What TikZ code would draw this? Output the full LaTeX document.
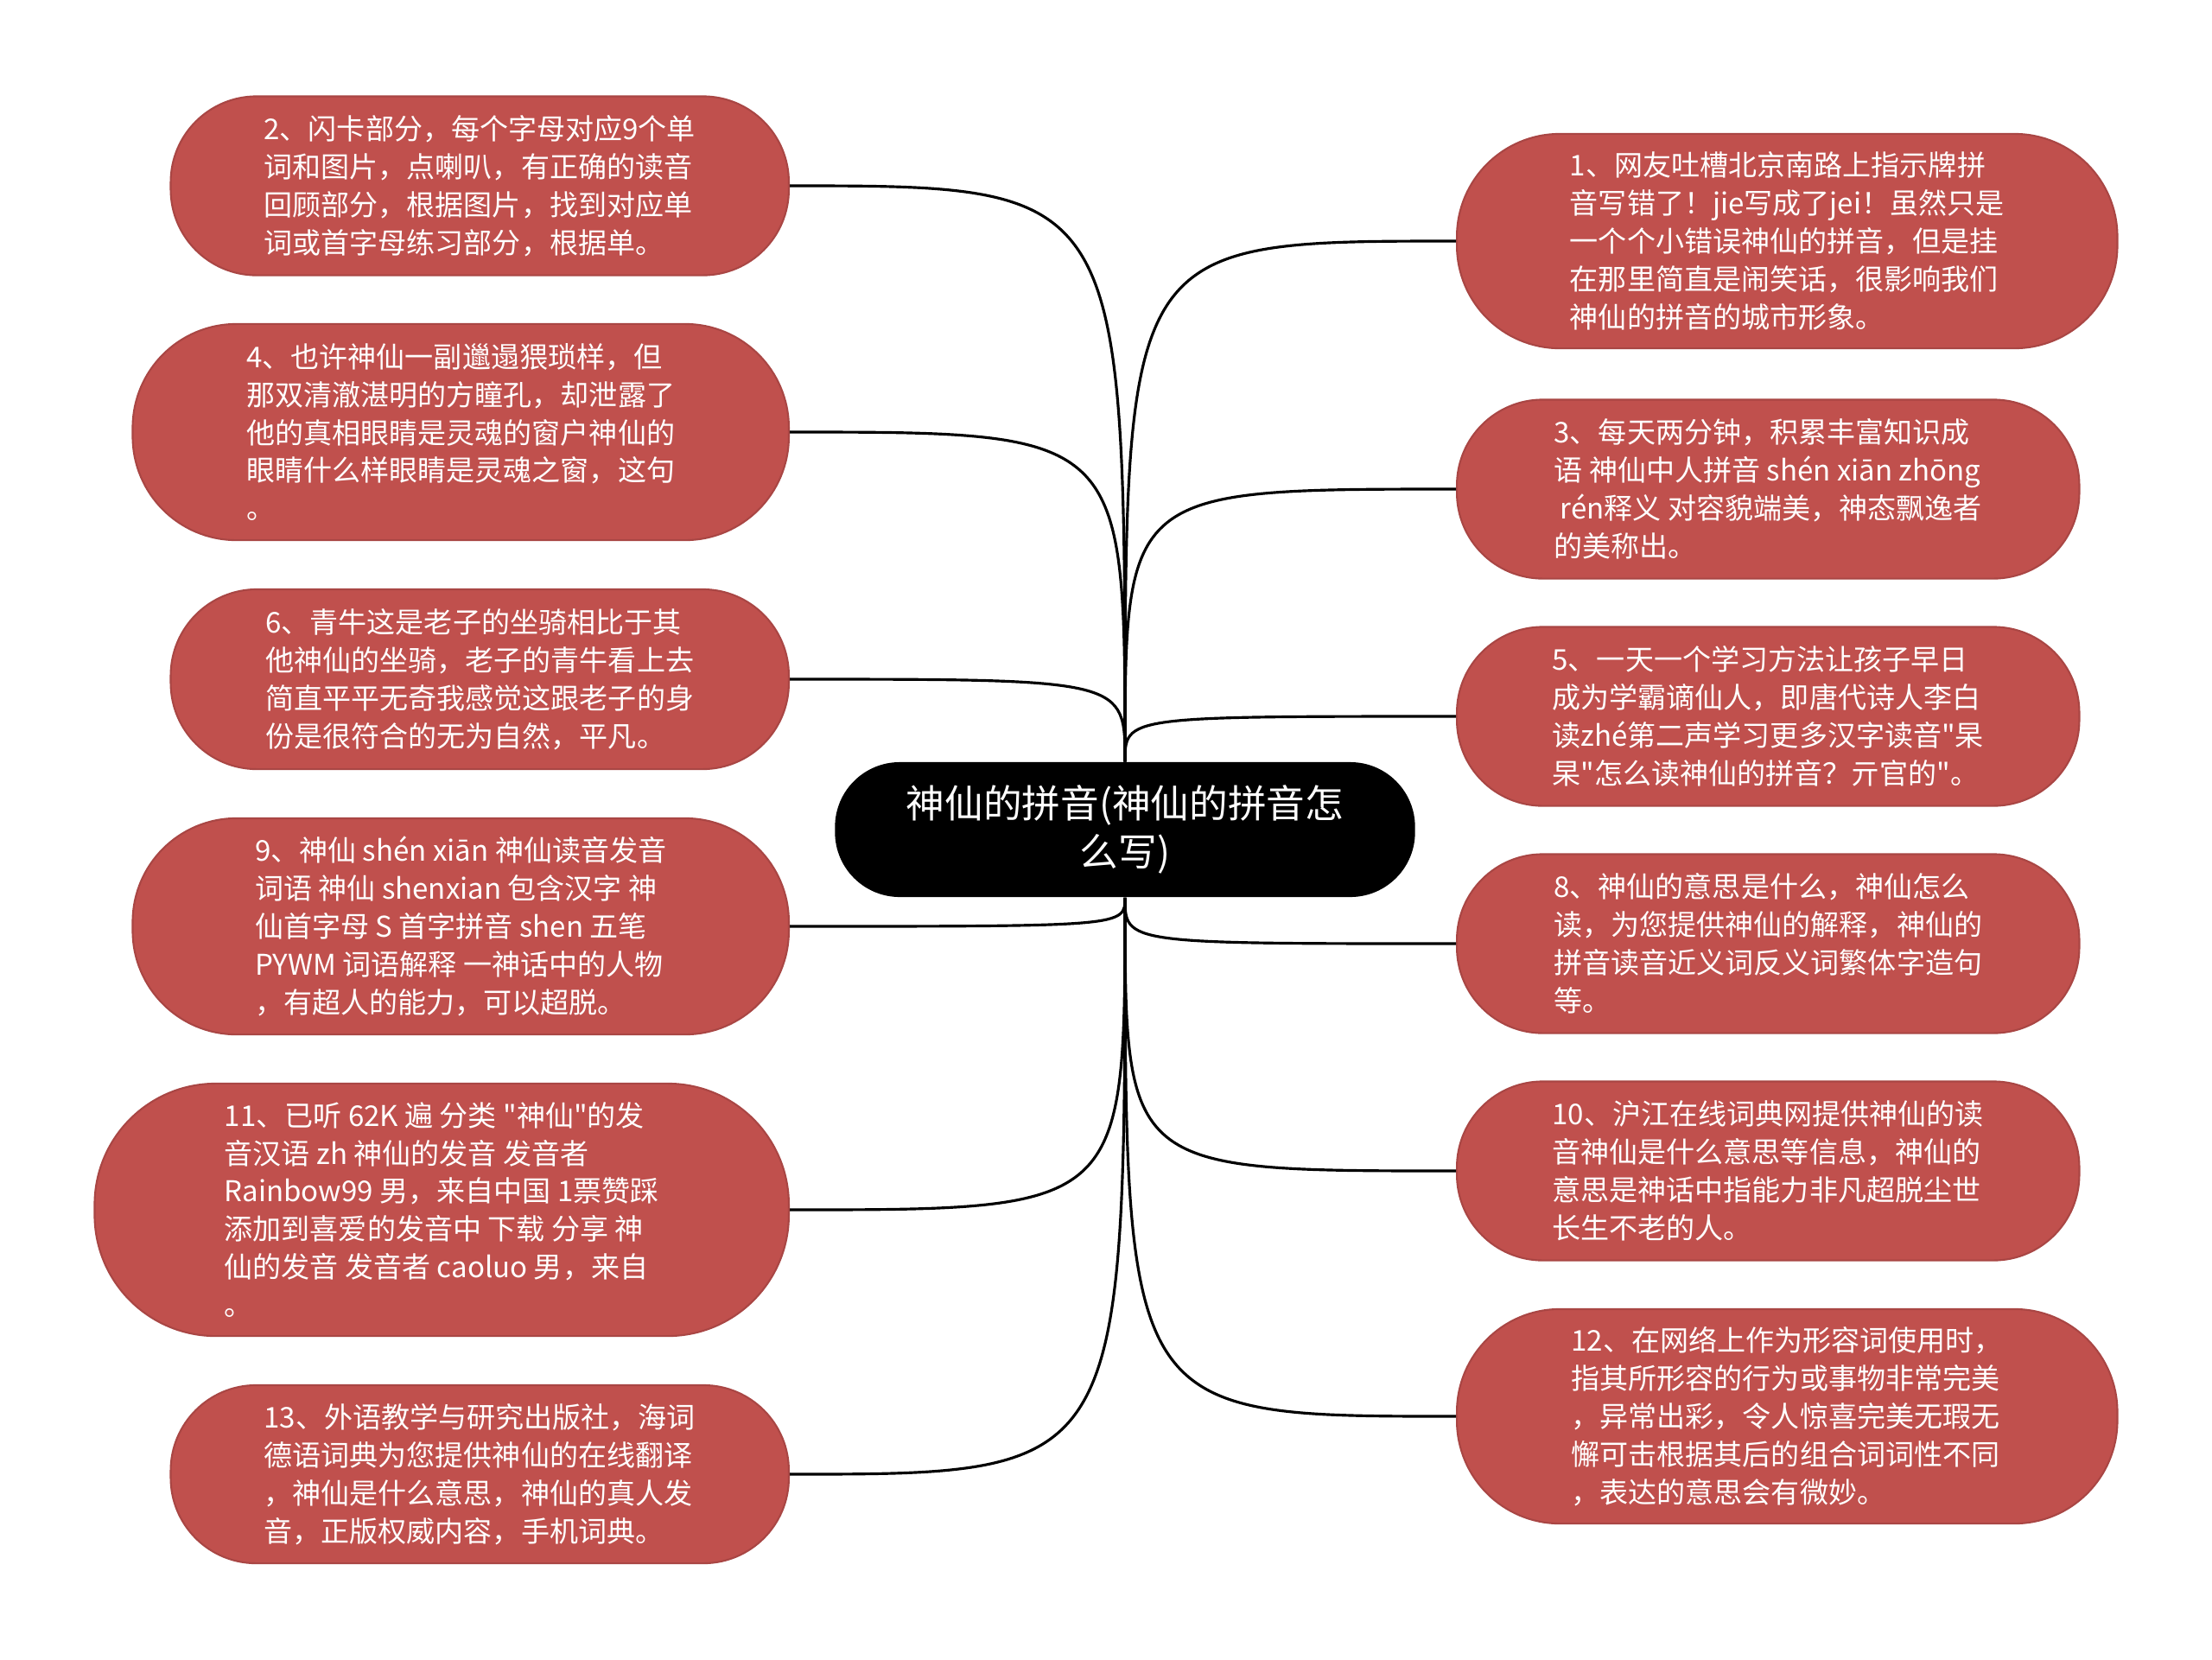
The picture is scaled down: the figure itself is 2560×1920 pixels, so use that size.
\documentclass[tikz,border=0pt]{standalone}
\usepackage{fontspec}
\setmainfont{Noto Sans CJK SC}[Ligatures=TeXOff]
\usepackage{tikz}

\definecolor{leafred}{RGB}{192,80,77}

\begin{document}
\begin{tikzpicture}[x=0.01cm, y=-0.01cm,
    leaf/.style 2 args={draw=leafred!88!black, line width=0.6pt, fill=leafred,
        text=white, align=left, inner sep=0pt,
        minimum width=#1, minimum height=#2, rounded corners=0.48*#2,
        font=\fontsize{9.4pt}{12.5pt}\selectfont},
    topic/.style={fill=black, text=white, align=center, inner sep=0pt,
        minimum width=6.71cm, minimum height=1.56cm, rounded corners=0.75cm,
        font=\fontsize{12.7pt}{15.8pt}\selectfont},
    link/.style={draw=black, line width=0.9pt}]
    \useasboundingbox (0,0) rectangle (2560,1920);

    % Topic
    \node[topic] (c) at (1302,960) {神仙的拼音(神仙的拼音怎\\么写)};

    % Left side
    \node[leaf={7.15cm}{2.07cm}, anchor=east] (n2) at (914,215) {%
        2、闪卡部分，每个字母对应9个单\\词和图片，点喇叭，有正确的读音\\%
        回顾部分，根据图片，找到对应单\\词或首字母练习部分，根据单。};
    \node[leaf={7.59cm}{2.50cm}, anchor=east] (n4) at (914,500) {%
        4、也许神仙一副邋遢猥琐样，但\\那双清澈湛明的方瞳孔，却泄露了\\%
        他的真相眼睛是灵魂的窗户神仙的\\眼睛什么样眼睛是灵魂之窗，这句\\。};
    \node[leaf={7.15cm}{2.08cm}, anchor=east] (n6) at (914,786) {%
        6、青牛这是老子的坐骑相比于其\\他神仙的坐骑，老子的青牛看上去\\%
        简直平平无奇我感觉这跟老子的身\\份是很符合的无为自然，平凡。};
    \node[leaf={7.59cm}{2.50cm}, anchor=east] (n9) at (914,1072) {%
        9、神仙 shén xiān 神仙读音发音\\词语 神仙 shenxian 包含汉字 神\\%
        仙首字母 S 首字拼音 shen 五笔\\PYWM 词语解释 一神话中的人物\\%
        ，有超人的能力，可以超脱。};
    \node[leaf={8.03cm}{2.92cm}, anchor=east] (n11) at (914,1400) {%
        11、已听 62K 遍 分类 "神仙"的发\\音汉语 zh 神仙的发音 发音者\\%
        Rainbow99 男，来自中国 1票赞踩\\添加到喜爱的发音中 下载 分享 神\\%
        仙的发音 发音者 caoluo 男，来自\\。};
    \node[leaf={7.15cm}{2.06cm}, anchor=east] (n13) at (914,1706) {%
        13、外语教学与研究出版社，海词\\德语词典为您提供神仙的在线翻译\\%
        ，神仙是什么意思，神仙的真人发\\音，正版权威内容，手机词典。};

    % Right side
    \node[leaf={7.64cm}{2.48cm}, anchor=west] (n1) at (1685,279) {%
        1、网友吐槽北京南路上指示牌拼\\音写错了！jie写成了jei！虽然只是\\%
        一个个小错误神仙的拼音，但是挂\\在那里简直是闹笑话，很影响我们\\%
        神仙的拼音的城市形象。};
    \node[leaf={7.20cm}{2.07cm}, anchor=west] (n3) at (1685,566) {%
        3、每天两分钟，积累丰富知识成\\语 神仙中人拼音 shén xiān zhōng\\%
        \ rén释义 对容貌端美，神态飘逸者\\的美称出。};
    \node[leaf={7.20cm}{2.07cm}, anchor=west] (n5) at (1685,829) {%
        5、一天一个学习方法让孩子早日\\成为学霸谪仙人，即唐代诗人李白\\%
        读zhé第二声学习更多汉字读音"杲\\杲"怎么读神仙的拼音？亓官的"。};
    \node[leaf={7.20cm}{2.07cm}, anchor=west] (n8) at (1685,1092) {%
        8、神仙的意思是什么，神仙怎么\\读，为您提供神仙的解释，神仙的\\%
        拼音读音近义词反义词繁体字造句\\等。};
    \node[leaf={7.20cm}{2.07cm}, anchor=west] (n10) at (1685,1355) {%
        10、沪江在线词典网提供神仙的读\\音神仙是什么意思等信息，神仙的\\%
        意思是神话中指能力非凡超脱尘世\\长生不老的人。};
    \node[leaf={7.64cm}{2.48cm}, anchor=west] (n12) at (1685,1639) {%
        12、在网络上作为形容词使用时，\\指其所形容的行为或事物非常完美\\%
        ，异常出彩，令人惊喜完美无瑕无\\懈可击根据其后的组合词词性不同\\%
        ，表达的意思会有微妙。};

    % Links
    \foreach \n in {n2, n4, n6}
        \draw[link] (c.north) .. controls (c.north |- \n.east) .. (\n.east);
    \foreach \n in {n9, n11, n13}
        \draw[link] (c.south) .. controls (c.south |- \n.east) .. (\n.east);
    \foreach \n in {n1, n3, n5}
        \draw[link] (c.north) .. controls (c.north |- \n.west) .. (\n.west);
    \foreach \n in {n8, n10, n12}
        \draw[link] (c.south) .. controls (c.south |- \n.west) .. (\n.west);
\end{tikzpicture}
\end{document}
